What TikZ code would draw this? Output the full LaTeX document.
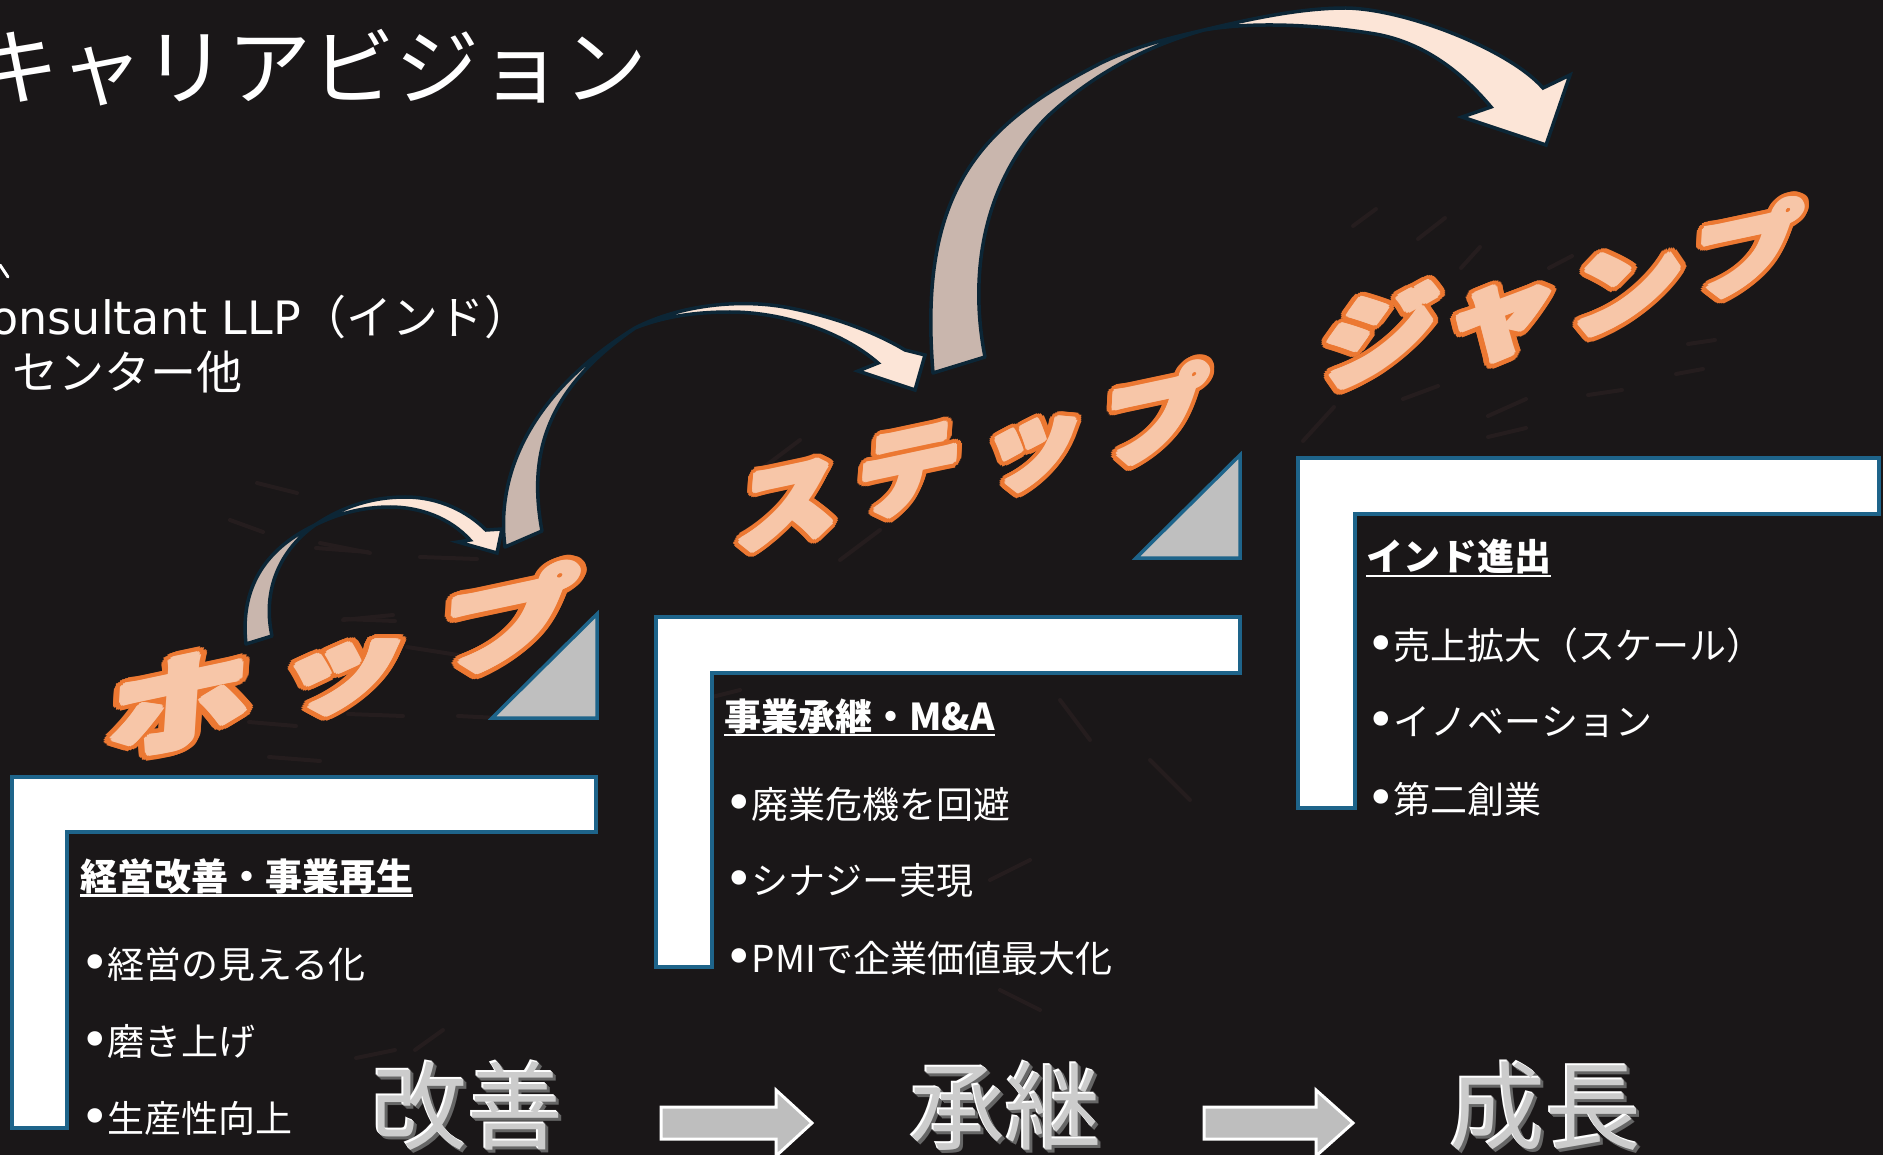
\documentclass[tikz,border=0pt]{standalone}
\usepackage{fontspec}
\setmainfont{Noto Sans CJK JP}
\newfontfamily\dvs{DejaVu Sans}
\definecolor{bgc}{RGB}{26,23,24}
\definecolor{streakc}{RGB}{37,29,30}
\definecolor{frameblue}{RGB}{30,100,138}
\definecolor{tric}{RGB}{191,191,191}
\definecolor{taupe}{RGB}{201,182,173}
\definecolor{peach}{RGB}{252,229,215}
\definecolor{navy}{RGB}{12,38,54}
\definecolor{kanafillc}{RGB}{247,198,168}
\definecolor{kanalinec}{RGB}{236,120,50}
\definecolor{arrowgray}{RGB}{190,190,190}
\tikzset{
  lframe/.style={fill=white, draw=frameblue, line width=3.5pt, line join=miter},
  stair/.style={fill=tric, draw=frameblue, line width=3.5pt, line join=miter},
  backband/.style={fill=taupe, draw=navy, line width=3.5pt, line join=round},
  frontband/.style={fill=peach, draw=navy, line width=3.5pt, line join=miter},
  headtxt/.style={font=\bfseries\fontsize{37}{44}\selectfont, text=white, inner sep=0pt, anchor=west},
  itemtxt/.style={font=\fontsize{37}{44}\selectfont, text=white, inner sep=0pt, anchor=west},
  lefttxt/.style={font=\fontsize{46}{52}\selectfont, text=white, inner sep=0pt, anchor=east},
  kanaout/.style={transform shape, inner sep=0pt, text=kanalinec, font=\bfseries\fontsize{100}{100}\selectfont},
  kanain/.style={transform shape, inner sep=0pt, text=kanafillc, font=\bfseries\fontsize{100}{100}\selectfont},
  bev/.style={inner sep=0pt, font=\fontsize{96}{96}\selectfont},
  blockarrow/.style={fill=arrowgray, draw=white, line width=3pt, line join=miter},
  streakline/.style={draw=streakc, line width=4pt, line cap=round},
}
\newcommand\bul{{\dvs\fontsize{50}{50}\selectfont\raisebox{-2pt}{•}}\hspace{-2pt}}
% outlined slanted kana: name, x, y, xscale, yscale, char
\newcommand\kana[6]{%
  \begin{scope}[shift={(#2,#3)}, rotate=12, xslant=0.28, xscale=#4, yscale=#5]
    \foreach \a in {0,15,...,345}{\node[kanaout] at (\a:7.5) {#6};}
    \foreach \a in {0,30,...,330}{\node[kanain] at (\a:3) {#6};}
    \node[kanain] (#1) at (0,0) {#6};
  \end{scope}}
% bevelled silver word: name, x, y, text
\newcommand\bevel[4]{%
  \foreach \d in {1,2,3}{\node[bev, text=black!60] at ({#2+\d},{#3+\d}) {#4};}
  \foreach \d in {0.8,1.6}{\node[bev, text=white] at ({#2-\d},{#3-\d}) {#4};}
  \node[bev, text=black!20] (#1) at (#2,#3) {#4};}
\begin{document}
\begin{tikzpicture}[x=1pt, y=-1pt]
\useasboundingbox (0,0) rectangle (1883,1155);
\clip (0,0) rectangle (1883,1155);
\fill[bgc] (0,0) rectangle (1883,1155);

% faint background streaks
\foreach \xa/\ya/\xb/\yb in {316/548/368/552, 344/619/395/621, 407/647/458/655, 249/722/296/726,
  348/714/403/716, 269/757/320/761, 458/716/498/718, 356/1058/395/1050, 415/1050/443/1030,
  257/483/297/493, 230/520/263/532, 320/543/370/553, 420/557/477/559, 343/620/393/615,
  1353/226/1376/209, 1418/239/1445/218, 1461/268/1480/247, 1549/268/1572/256, 1488/416/1526/399,
  1488/437/1526/428, 1403/399/1438/386, 1588/395/1622/390, 1688/344/1715/340, 1676/374/1703/369,
  1303/441/1334/407, 700/700/740/690, 760/470/800/440, 840/560/880/530, 1060/700/1090/740,
  1150/760/1190/800, 1000/990/1040/1010, 990/880/1030/860}
  {\draw[streakline] (\xa,\ya) -- (\xb,\yb);}

% title and left texts
\node[inner sep=0pt, anchor=east, text=white, font=\fontsize{84}{90}\selectfont] (title) at (648,68) {キャリアビジョン};
\draw[white, line width=3pt, line cap=round] (0,265) -- (8,277);
\node[inner sep=0pt, anchor=east, text=white, font=\fontsize{46}{52}\selectfont] (llp) at (531,317)
  {{\dvs\fontsize{46}{52}\selectfont Consultant LLP}（インド）};
\node[lefttxt] (center) at (243,372) {センター他};

% curved arrows (hop, step, jump)
\draw[backband] (246,644) .. controls (240,590) and (263,550) .. (315,525)
  .. controls (280,550) and (262,590) .. (272,636) -- cycle;
\draw[frontband] (315,525) .. controls (345,505) and (375,497) .. (405,497)
  .. controls (440,497) and (468,512) .. (486,530) -- (502,529) -- (497,553) -- (458,542) -- (470,540)
  .. controls (450,518) and (420,507) .. (390,507) .. controls (360,507) and (335,515) .. (315,525) -- cycle;

\draw[backband] (505,547) .. controls (495,470) and (535,390) .. (635,328)
  .. controls (545,390) and (528,455) .. (542,531) -- cycle;
\draw[frontband] (635,328) .. controls (680,305) and (740,298) .. (790,308)
  .. controls (840,318) and (880,335) .. (905,350) -- (925,355) -- (915,390) -- (858,371) -- (878,363)
  .. controls (840,330) and (780,312) .. (730,312) .. controls (690,312) and (660,318) .. (635,328) -- cycle;

\draw[backband] (933,373) .. controls (918,190) and (980,125) .. (1101,63)
  .. controls (1136,46) and (1170,38) .. (1204,30)
  .. controls (1150,45) and (1095,72) .. (1047,117) .. controls (985,180) and (968,270) .. (985,357) -- cycle;
\draw[frontband] (1204,30) .. controls (1250,19) and (1300,8) .. (1346,8)
  .. controls (1406,9) and (1510,50) .. (1543,88) -- (1570,75) -- (1546,145) -- (1462,117) -- (1491,107)
  .. controls (1460,70) and (1420,40) .. (1369,33) .. controls (1310,24) and (1250,22) .. (1204,30) -- cycle;

% L-shaped frames and stair triangles
\draw[lframe] (12,777) -- (596,777) -- (596,832) -- (67,832) -- (67,1128) -- (12,1128) -- cycle;
\draw[lframe] (656,617) -- (1240,617) -- (1240,673) -- (712,673) -- (712,967) -- (656,967) -- cycle;
\draw[lframe] (1298,458) -- (1879,458) -- (1879,514) -- (1355,514) -- (1355,808) -- (1298,808) -- cycle;
\draw[stair] (492,718) -- (597,718) -- (597,614) -- cycle;
\draw[stair] (1136,558) -- (1240,558) -- (1240,455) -- cycle;

% hop step jump lettering
\kana{hopa}{180}{703}{1.42}{1.0}{ホ}
\kana{hopb}{344}{678}{1.35}{0.9}{ッ}
\kana{hopc}{510}{620}{1.38}{0.95}{プ}
\kana{stepa}{788}{505}{1.05}{0.92}{ス}
\kana{stepb}{909}{472}{1.05}{0.92}{テ}
\kana{stepc}{1033}{455}{1.05}{0.92}{ッ}
\kana{stepd}{1156}{415}{1.05}{0.92}{プ}
\kana{jumpa}{1381}{336}{1.18}{0.95}{ジ}
\kana{jumpb}{1502}{323}{1.18}{0.95}{ャ}
\kana{jumpc}{1627}{289}{1.15}{0.92}{ン}
\kana{jumpd}{1748}{250}{1.1}{0.88}{プ}

% frame 1 texts
\node[headtxt] (h1) at (80,876) {経営改善・事業再生};
\draw[white, line width=2.2pt] ([yshift=-1.5pt]h1.south west) -- ([yshift=-1.5pt]h1.south east);
\node[itemtxt] (a1) at (80,964) {\bul 経営の見える化};
\node[itemtxt] (a2) at (80,1041) {\bul 磨き上げ};
\node[itemtxt] (a3) at (80,1118) {\bul 生産性向上};
% frame 2 texts
\node[headtxt] (h2) at (724,716) {事業承継・M\&A};
\draw[white, line width=2.2pt] ([yshift=-1.5pt]h2.south west) -- ([yshift=-1.5pt]h2.south east);
\node[itemtxt] (b1) at (724,804) {\bul 廃業危機を回避};
\node[itemtxt] (b2) at (724,881) {\bul シナジー実現};
\node[itemtxt] (b3) at (724,958) {\bul PMIで企業価値最大化};
% frame 3 texts
\node[headtxt] (h3) at (1366,557) {インド進出};
\draw[white, line width=2.2pt] ([yshift=-1.5pt]h3.south west) -- ([yshift=-1.5pt]h3.south east);
\node[itemtxt] (c1) at (1366,645) {\bul 売上拡大（スケール）};
\node[itemtxt] (c2) at (1366,722) {\bul イノベーション};
\node[itemtxt] (c3) at (1366,799) {\bul 第二創業};

% bottom row
\bevel{kaizen}{467}{1106}{改善}
\bevel{shokei}{1005}{1106}{承継}
\bevel{seicho}{1545}{1106}{成長}
\draw[blockarrow] (661,1107) -- (776,1107) -- (776,1090) -- (812,1123) -- (776,1156) -- (776,1139) -- (661,1139) -- cycle;
\draw[blockarrow] (1204,1107) -- (1316,1107) -- (1316,1090) -- (1353,1123) -- (1316,1156) -- (1316,1139) -- (1204,1139) -- cycle;
\end{tikzpicture}
\end{document}
